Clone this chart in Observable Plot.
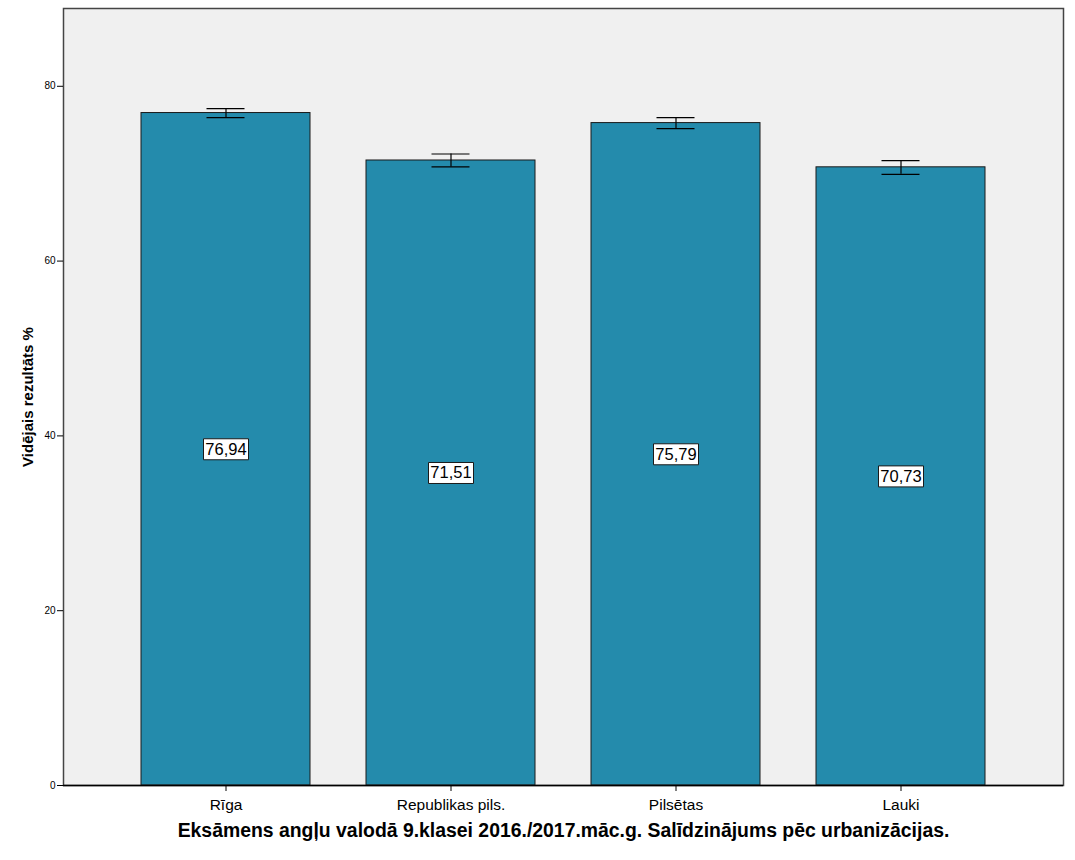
<!DOCTYPE html>
<html>
<head>
<meta charset="utf-8">
<script src="https://cdn.jsdelivr.net/npm/d3@7"></script>
<script src="https://cdn.jsdelivr.net/npm/@observablehq/plot@0.6"></script>
<style>
  html, body { margin: 0; padding: 0; background: #ffffff; }
  #chart { width: 1075px; height: 860px; }
</style>
</head>
<body>
<div id="chart"></div>
<script>
const categories = ["Rīga", "Republikas pils.", "Pilsētas", "Lauki"];
const means = [76.94, 71.51, 75.79, 70.73];
const lower = [76.42, 70.77, 75.16, 69.93];
const upper = [77.45, 72.25, 76.42, 71.49];
const labels = ["76,94", "71,51", "75,79", "70,73"];
const yTicks = [0, 20, 40, 60, 80];
const yLabel = "Vidējais rezultāts %";
const xLabel = "Eksāmens angļu valodā 9.klasei 2016./2017.māc.g. Salīdzinājums pēc urbanizācijas.";

const data = categories.map((c, i) => ({
  cat: c, mean: means[i], lo: lower[i], hi: upper[i], label: labels[i]
}));

const boxSymbol = {
  draw(context) {
    context.moveTo(-22.5, -10.5);
    context.lineTo(22.5, -10.5);
    context.lineTo(22.5, 10.5);
    context.lineTo(-22.5, 10.5);
    context.closePath();
  }
};

const chart = Plot.plot({
  width: 1075,
  height: 860,
  marginLeft: 63,
  marginRight: 12,
  marginTop: 8,
  marginBottom: 75,
  style: { fontFamily: "'Liberation Sans', Arial, sans-serif", background: "#ffffff", color: "#000" },
  x: {
    domain: categories,
    paddingInner: 0.25,
    paddingOuter: 0.347,
    label: null
  },
  y: {
    domain: [0, 88.9],
    label: null
  },
  marks: [
    Plot.frame({ fill: "#f0f0f0", stroke: "none" }),
    Plot.barY(data, { x: "cat", y: "mean", fill: "#248bac", stroke: "#1a1a1a", strokeWidth: 1 }),
    Plot.ruleX(data, { x: "cat", y1: "lo", y2: "hi", stroke: "#000", strokeWidth: 1.2 }),
    Plot.tickY(data, { x: "cat", y: "lo", stroke: "#000", strokeWidth: 1.2, insetLeft: 65.5, insetRight: 65.5 }),
    Plot.tickY(data, { x: "cat", y: "hi", stroke: "#000", strokeWidth: 1.2, insetLeft: 65.5, insetRight: 65.5 }),
    Plot.dot(data, { x: "cat", y: d => d.mean / 2, symbol: boxSymbol, fill: "#ffffff", stroke: "#1a1a1a", strokeWidth: 1 }),
    Plot.text(data, { x: "cat", y: d => d.mean / 2, text: "label", fontSize: 16.5, fill: "#000" }),
    Plot.frame({ stroke: "#444", strokeWidth: 1.5 }),
    Plot.axisY({ ticks: yTicks, tickSize: 6, tickPadding: 2, fontSize: 10, label: null, stroke: "#000" }),
    Plot.axisX({ tickSize: 6, tickPadding: 7, fontSize: 15.5, label: null, stroke: "#000" }),
    Plot.ruleY([0], { stroke: "#000", strokeWidth: 1.5 }),
    Plot.text([yLabel], { frameAnchor: "left", dx: -35, rotate: -90, textAnchor: "middle", fontWeight: "bold", fontSize: 15, text: d => d }),
    Plot.text([xLabel], { frameAnchor: "bottom", dy: 51, fontWeight: "bold", fontSize: 19.4, text: d => d })
  ]
});
document.getElementById("chart").appendChild(chart);
</script>
</body>
</html>
